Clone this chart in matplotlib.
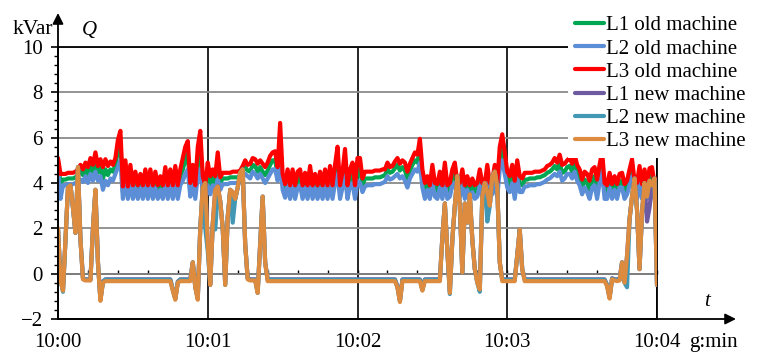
import matplotlib
matplotlib.use('Agg')
import matplotlib.pyplot as plt
from matplotlib.ticker import MultipleLocator

plt.rcParams['font.family'] = ['Liberation Serif', 'DejaVu Serif']

# time in seconds from 10:00, one sample per second
seconds = list(range(0, 241))
tick_pos = [0, 60, 120, 180, 240]
tick_labels = ['10:00', '10:01', '10:02', '10:03', '10:04']

names = ['L1 old machine', 'L2 old machine', 'L3 old machine',
         'L1 new machine', 'L2 new machine', 'L3 new machine']
colors = ['#00A651', '#5B8ED6', '#FF0000', '#6E5AA0', '#4197B4', '#DC8B3F']

# reactive power Q, kVar
l1_old = [
    4.9, 4.0, 4.15, 4.15, 4.2, 4.2, 4.2, 4.25, 4.35, 4.5, 4.35, 4.6, 4.4, 4.8, 4.5, 5.0, 4.45, 4.7, 4.2, 4.6,
    4.35, 4.6, 4.5, 4.8, 5.4, 5.8, 3.6, 4.6, 3.6, 4.4, 3.6, 4.2, 3.6, 4.1, 3.6, 4.3, 3.6, 4.3, 3.6, 4.2,
    3.6, 4.0, 3.6, 4.4, 3.6, 4.3, 3.6, 4.4, 3.6, 4.3, 4.6, 5.0, 5.3, 3.7, 4.4, 3.6, 5.0, 5.5, 4.0, 3.6,
    4.4, 3.9, 4.3, 4.0, 4.8, 4.0, 4.2, 4.2, 4.2, 4.25, 4.25, 4.25, 4.25, 4.3, 4.5, 4.7, 4.55, 4.5, 4.8, 4.75,
    4.5, 4.7, 4.5, 4.35, 4.55, 4.8, 5.0, 5.0, 4.4, 5.8, 4.0, 3.65, 4.25, 3.6, 4.25, 3.6, 4.15, 4.25, 3.6, 4.1,
    3.6, 4.4, 3.6, 4.1, 3.6, 4.15, 3.6, 4.25, 3.6, 4.4, 3.6, 4.4, 5.0, 3.6, 4.15, 4.9, 3.6, 4.25, 4.5, 3.6,
    4.6, 4.6, 3.9, 4.2, 4.2, 4.2, 4.2, 4.25, 4.25, 4.25, 4.3, 4.35, 4.6, 4.45, 4.5, 4.65, 4.8, 4.55, 4.7, 4.55,
    4.2, 4.55, 4.8, 5.0, 4.9, 5.5, 4.2, 3.65, 4.0, 3.6, 4.4, 3.7, 3.65, 4.15, 3.6, 4.5, 3.6, 3.7, 4.25, 4.5,
    3.7, 3.7, 4.25, 3.6, 4.0, 3.6, 3.9, 3.6, 3.7, 4.25, 3.7, 3.65, 4.4, 3.7, 3.8, 4.4, 3.7, 5.1, 5.6, 4.9,
    4.15, 3.95, 4.4, 3.7, 4.6, 3.95, 3.9, 4.15, 4.15, 4.2, 4.2, 4.2, 4.25, 4.25, 4.3, 4.35, 4.45, 4.5, 4.6, 4.75,
    4.6, 4.9, 4.45, 4.5, 4.7, 4.75, 4.5, 4.9, 4.45, 4.25, 3.8, 4.15, 4.0, 3.7, 4.2, 4.3, 3.7, 4.4, 4.95, 3.65,
    3.6, 4.1, 3.6, 4.0, 3.6, 4.1, 4.1, 3.6, 3.8, 4.25, 4.7, 3.75, 3.65, 4.4, 3.6, 4.25, 3.6, 4.3, 4.35, 3.6,
    3.9]

l2_old = [
    4.6, 3.3, 3.9, 3.9, 3.95, 3.95, 3.95, 4.0, 4.1, 4.15, 4.05, 4.3, 4.0, 4.4, 4.1, 4.5, 4.1, 4.3, 3.7, 4.1,
    3.9, 4.2, 4.1, 4.4, 4.7, 5.0, 3.3, 4.2, 3.3, 4.0, 3.3, 3.8, 3.3, 3.8, 3.3, 3.9, 3.3, 3.9, 3.3, 3.8,
    3.3, 3.7, 3.3, 4.0, 3.3, 3.9, 3.3, 4.0, 3.3, 3.9, 4.1, 4.4, 4.6, 3.4, 4.0, 3.3, 4.3, 4.6, 3.6, 3.3,
    3.9, 3.5, 3.9, 3.6, 4.2, 3.7, 3.95, 3.95, 3.95, 4.0, 4.0, 4.0, 4.0, 4.05, 4.25, 4.4, 4.3, 4.2, 4.5, 4.4,
    4.2, 4.4, 4.2, 4.0, 4.2, 4.4, 4.6, 4.6, 4.1, 5.0, 3.7, 3.35, 3.9, 3.3, 3.9, 3.3, 3.8, 3.9, 3.3, 3.8,
    3.3, 4.0, 3.3, 3.8, 3.3, 3.8, 3.3, 3.9, 3.3, 4.0, 3.3, 4.0, 4.4, 3.3, 3.8, 4.3, 3.3, 3.9, 4.0, 3.3,
    4.1, 4.0, 3.6, 3.85, 3.9, 3.9, 3.9, 3.95, 3.95, 3.95, 4.0, 4.05, 4.3, 4.15, 4.2, 4.3, 4.4, 4.2, 4.3, 4.1,
    3.8, 4.2, 4.4, 4.6, 4.5, 4.9, 3.8, 3.3, 3.7, 3.3, 4.0, 3.4, 3.3, 3.8, 3.3, 4.0, 3.3, 3.4, 3.9, 4.0,
    3.4, 3.4, 3.9, 3.3, 3.7, 3.3, 3.6, 3.3, 3.4, 3.9, 3.4, 3.35, 4.0, 3.4, 3.5, 4.0, 3.4, 4.6, 5.0, 4.4,
    3.8, 3.6, 4.0, 3.3, 4.2, 3.6, 3.6, 3.85, 3.85, 3.9, 3.9, 3.9, 3.95, 3.95, 4.0, 4.05, 4.15, 4.2, 4.3, 4.4,
    4.3, 4.5, 4.1, 4.2, 4.4, 4.4, 4.2, 4.5, 4.1, 3.9, 3.5, 3.8, 3.6, 3.3, 3.8, 3.9, 3.3, 4.0, 4.5, 3.3,
    3.3, 3.8, 3.3, 3.7, 3.3, 3.8, 3.8, 3.3, 3.5, 3.9, 4.3, 3.4, 3.3, 4.0, 3.3, 3.9, 3.3, 3.9, 4.0, 3.3,
    3.6]

l3_old = [
    5.1, 4.4, 4.4, 4.4, 4.45, 4.45, 4.45, 4.5, 4.6, 4.8, 4.6, 4.9, 4.7, 5.1, 4.8, 5.35, 4.75, 5.05, 4.7, 5.05,
    4.75, 4.95, 4.8, 5.1, 5.9, 6.3, 3.85, 5.0, 3.85, 4.8, 3.9, 4.5, 3.9, 4.4, 3.9, 4.6, 3.9, 4.6, 3.9, 4.5,
    3.9, 4.3, 3.9, 4.7, 3.9, 4.6, 3.9, 4.75, 3.9, 4.6, 5.1, 5.6, 5.85, 4.0, 4.8, 3.9, 5.6, 6.3, 4.3, 3.9,
    4.9, 4.3, 4.6, 4.3, 5.35, 4.25, 4.45, 4.45, 4.45, 4.45, 4.5, 4.5, 4.5, 4.55, 4.75, 5.0, 4.8, 4.85, 5.1, 5.05,
    4.85, 5.0, 4.85, 4.7, 4.9, 5.2, 5.35, 5.4, 4.7, 6.65, 4.4, 3.95, 4.6, 3.9, 4.6, 3.9, 4.5, 4.6, 3.9, 4.45,
    3.9, 4.75, 3.9, 4.4, 3.9, 4.5, 3.9, 4.6, 3.9, 4.75, 3.9, 4.8, 5.6, 3.9, 4.5, 5.5, 3.9, 4.6, 4.9, 3.9,
    5.1, 5.1, 4.2, 4.5, 4.5, 4.5, 4.5, 4.55, 4.55, 4.55, 4.6, 4.6, 4.9, 4.7, 4.75, 4.95, 5.1, 4.85, 5.0, 4.9,
    4.5, 4.85, 5.1, 5.35, 5.25, 5.95, 4.6, 4.0, 4.3, 3.9, 4.8, 4.0, 3.95, 4.5, 3.9, 4.9, 3.9, 4.0, 4.6, 4.9,
    4.0, 4.0, 4.6, 3.9, 4.3, 3.9, 4.2, 3.9, 4.0, 4.6, 4.0, 3.95, 4.8, 4.0, 4.1, 4.8, 4.0, 5.6, 6.15, 5.35,
    4.5, 4.3, 4.8, 4.1, 5.0, 4.3, 4.2, 4.45, 4.45, 4.45, 4.45, 4.5, 4.5, 4.5, 4.55, 4.6, 4.75, 4.8, 4.9, 5.1,
    4.9, 5.25, 4.8, 4.85, 5.0, 5.1, 4.85, 5.25, 4.8, 4.6, 4.15, 4.5, 4.4, 4.1, 4.6, 4.7, 4.15, 4.8, 5.4, 4.0,
    3.9, 4.45, 3.95, 4.3, 3.95, 4.4, 4.45, 3.95, 4.1, 4.6, 5.05, 4.1, 4.0, 4.75, 3.95, 4.6, 3.9, 4.65, 4.7, 3.95,
    4.2]

l1_new = [
    2.0, -0.25, -0.7, 1.5, 3.8, 3.9, 2.9, 1.8, 4.7, 1.5, -0.2, -0.25, -0.25, -0.25, 2.0, 3.7, 0.5, -1.15, -0.35, -0.25,
    -0.25, -0.25, -0.25, -0.25, -0.25, -0.25, -0.25, -0.25, -0.25, -0.25, -0.25, -0.25, -0.25, -0.25, -0.25, -0.25, -0.25, -0.25, -0.25, -0.25,
    -0.25, -0.25, -0.25, -0.25, -0.25, -0.25, -0.7, -1.1, -0.35, -0.25, -0.25, -0.25, -0.25, -0.25, 0.5, -0.55, -1.1, 2.0, 3.8, 4.0,
    1.3, -0.45, 2.2, 3.7, 3.85, 3.2, 2.0, -0.45, 2.5, 3.7, 3.6, 3.3, 3.8, 4.45, 4.6, 1.3, -0.2, -0.25, -0.25, -0.25,
    -0.8, 1.3, 3.4, 0.5, -0.25, -0.25, -0.25, -0.25, -0.25, -0.25, -0.25, -0.25, -0.25, -0.25, -0.25, -0.25, -0.25, -0.25, -0.25, -0.25,
    -0.25, -0.25, -0.25, -0.25, -0.25, -0.25, -0.25, -0.25, -0.25, -0.25, -0.25, -0.25, -0.25, -0.25, -0.25, -0.25, -0.25, -0.25, -0.25, -0.25,
    -0.25, -0.25, -0.25, -0.25, -0.25, -0.25, -0.25, -0.25, -0.25, -0.25, -0.25, -0.25, -0.25, -0.25, -0.25, -0.25, -0.55, -1.2, -0.25, -0.25,
    -0.25, -0.25, -0.25, -0.25, -0.25, -0.25, -0.7, -0.25, -0.25, -0.25, -0.25, -0.25, -0.25, -0.25, 1.6, 3.1, 1.0, -0.8, 1.5, 3.0,
    4.3, 3.0, 0.05, 3.1, 2.25, 3.5, 1.5, 0.2, -0.35, -0.65, 3.4, 4.0, 3.6, 3.0, 4.3, 4.5, 3.8, 0.5, -0.25, -0.25,
    -0.25, -0.25, -0.25, -0.25, 0.8, 1.95, 0.2, -0.25, -0.25, -0.25, -0.25, -0.25, -0.25, -0.25, -0.25, -0.25, -0.25, -0.25, -0.25, -0.25,
    -0.25, -0.25, -0.25, -0.25, -0.25, -0.25, -0.25, -0.25, -0.25, -0.25, -0.25, -0.25, -0.25, -0.25, -0.25, -0.25, -0.25, -0.25, -0.25, -0.25,
    -0.5, -1.05, -0.2, -0.25, -0.25, -0.25, 0.5, -0.35, 0.8, 2.4, 3.4, 4.2, 2.8, 0.2, 2.7, 4.0, 2.3, 2.9, 3.9, 4.2,
    -0.5]

l2_new = [
    2.0, -0.27, -0.8, 1.5, 3.8, 3.9, 2.9, 1.8, 4.7, 1.5, -0.22, -0.27, -0.27, -0.27, 2.0, 3.7, 0.5, -1.15, -0.37, -0.27,
    -0.27, -0.27, -0.27, -0.27, -0.27, -0.27, -0.27, -0.27, -0.27, -0.27, -0.27, -0.27, -0.27, -0.27, -0.27, -0.27, -0.27, -0.27, -0.27, -0.27,
    -0.27, -0.27, -0.27, -0.27, -0.27, -0.27, -0.7, -1.1, -0.37, -0.27, -0.27, -0.27, -0.27, -0.27, 0.5, -0.6, -1.1, 2.0, 3.8, 2.0,
    1.0, -0.5, 2.2, 1.95, 3.6, 3.2, 2.0, -0.5, 2.5, 3.7, 2.25, 3.3, 3.8, 4.45, 4.6, 1.3, -0.22, -0.27, -0.27, -0.27,
    -0.85, 1.3, 3.4, 0.5, -0.27, -0.27, -0.27, -0.27, -0.27, -0.27, -0.27, -0.27, -0.27, -0.27, -0.27, -0.27, -0.27, -0.27, -0.27, -0.27,
    -0.27, -0.27, -0.27, -0.27, -0.27, -0.27, -0.27, -0.27, -0.27, -0.27, -0.27, -0.27, -0.27, -0.27, -0.27, -0.27, -0.27, -0.27, -0.27, -0.27,
    -0.27, -0.27, -0.27, -0.27, -0.27, -0.27, -0.27, -0.27, -0.27, -0.27, -0.27, -0.27, -0.27, -0.27, -0.27, -0.27, -0.6, -1.2, -0.27, -0.27,
    -0.27, -0.27, -0.27, -0.27, -0.27, -0.27, -0.7, -0.27, -0.27, -0.27, -0.27, -0.27, -0.27, -0.27, 1.6, 3.1, 1.0, -0.9, 1.5, 3.0,
    4.3, 3.0, 0.05, 3.1, 2.25, 3.5, 1.5, 0.2, -0.4, -0.8, 3.4, 4.0, 2.3, 3.0, 4.3, 4.5, 3.8, 0.5, -0.27, -0.27,
    -0.27, -0.27, -0.27, -0.27, 0.8, 1.95, 0.2, -0.27, -0.27, -0.27, -0.27, -0.27, -0.27, -0.27, -0.27, -0.27, -0.27, -0.27, -0.27, -0.27,
    -0.27, -0.27, -0.27, -0.27, -0.27, -0.27, -0.27, -0.27, -0.27, -0.27, -0.27, -0.27, -0.27, -0.27, -0.27, -0.27, -0.27, -0.27, -0.27, -0.27,
    -0.5, -1.05, -0.22, -0.27, -0.27, -0.27, 0.5, -0.4, -0.6, 2.4, 3.4, 4.2, 2.8, 0.2, 2.7, 4.0, 3.4, 4.1, 3.9, 4.2,
    -0.5]

l3_new = [
    2.0, -0.3, -0.75, 1.5, 3.8, 3.9, 2.9, 1.8, 4.7, 1.5, -0.25, -0.3, -0.3, -0.3, 2.0, 3.7, 0.5, -1.2, -0.4, -0.33,
    -0.33, -0.33, -0.33, -0.33, -0.33, -0.33, -0.33, -0.33, -0.33, -0.33, -0.33, -0.33, -0.33, -0.33, -0.33, -0.33, -0.33, -0.33, -0.33, -0.33,
    -0.33, -0.33, -0.33, -0.33, -0.33, -0.33, -0.75, -1.15, -0.4, -0.33, -0.33, -0.33, -0.33, -0.33, 0.5, -0.6, -1.15, 2.0, 3.8, 4.0,
    1.3, -0.5, 2.2, 3.7, 3.85, 3.2, 2.0, -0.5, 2.5, 3.7, 3.6, 3.3, 3.8, 4.45, 4.6, 1.3, -0.25, -0.3, -0.3, -0.3,
    -0.85, 1.3, 3.4, 0.5, -0.33, -0.33, -0.33, -0.33, -0.33, -0.33, -0.33, -0.33, -0.33, -0.33, -0.33, -0.33, -0.33, -0.33, -0.33, -0.33,
    -0.33, -0.33, -0.33, -0.33, -0.33, -0.33, -0.33, -0.33, -0.33, -0.33, -0.33, -0.33, -0.33, -0.33, -0.33, -0.33, -0.33, -0.33, -0.33, -0.33,
    -0.33, -0.33, -0.33, -0.33, -0.33, -0.33, -0.33, -0.33, -0.33, -0.33, -0.33, -0.33, -0.33, -0.33, -0.33, -0.33, -0.6, -1.25, -0.33, -0.33,
    -0.33, -0.33, -0.33, -0.33, -0.33, -0.33, -0.75, -0.33, -0.33, -0.33, -0.33, -0.33, -0.33, -0.33, 1.6, 3.1, 1.0, -0.85, 1.5, 3.0,
    4.3, 3.0, 0.05, 3.1, 2.25, 3.5, 1.5, 0.2, -0.4, -0.7, 3.4, 4.0, 3.6, 3.0, 4.3, 4.5, 3.8, 0.5, -0.33, -0.33,
    -0.33, -0.33, -0.33, -0.33, 0.8, 1.95, 0.2, -0.33, -0.33, -0.33, -0.33, -0.33, -0.33, -0.33, -0.33, -0.33, -0.33, -0.33, -0.33, -0.33,
    -0.33, -0.33, -0.33, -0.33, -0.33, -0.33, -0.33, -0.33, -0.33, -0.33, -0.33, -0.33, -0.33, -0.33, -0.33, -0.33, -0.33, -0.33, -0.33, -0.33,
    -0.55, -1.1, -0.25, -0.3, -0.33, -0.3, 0.5, -0.4, 0.8, 2.4, 3.4, 4.2, 2.8, 0.2, 2.7, 4.0, 3.4, 4.1, 3.9, 4.2,
    -0.5]

series = [l1_old, l2_old, l3_old, l1_new, l2_new, l3_new]

W, H = 766, 360
fs = 15
fig = plt.figure(figsize=(W / 100, H / 100), dpi=100)
ax = fig.add_axes([58 / W, 1 - 319 / H, (657 - 58) / W, (319 - 47) / H])

for vals, name, c in zip(series, names, colors):
    ax.plot(seconds, vals, color=c, lw=3, label=name,
            solid_joinstyle='round', solid_capstyle='round', zorder=3)

ax.set_xlim(0, 240)
ax.set_ylim(-2, 10)
ax.set_xticks(tick_pos)
ax.set_xticklabels(tick_labels)
ax.set_yticks(range(-2, 11, 2))
ax.yaxis.set_minor_locator(MultipleLocator(0.4))

ax.tick_params(axis='x', length=0, pad=10, labelsize=fs)
ax.tick_params(axis='y', which='major', direction='out', length=5, width=1.2, pad=6, labelsize=fs)
ax.tick_params(axis='y', which='minor', direction='out', length=3, width=1.0)

ax.grid(axis='y', color='#8a8a8a', lw=1.3, zorder=1)
ax.grid(axis='x', color='black', lw=1.2, zorder=1)
ax.set_axisbelow(True)
for s in ax.spines.values():
    s.set_linewidth(1.3)
    s.set_color('black')

# zero line with small ticks every 12 s
zero = ax.secondary_xaxis(1 / 6)
zero.set_xticks(range(0, 241, 12))
zero.tick_params(direction='in', length=3, width=1.0, labelbottom=False)
zero.spines['bottom'].set_linewidth(1.3)

# axis arrows
arrow = dict(arrowstyle='-|>', color='black', lw=1.3, mutation_scale=16, shrinkA=0, shrinkB=0)
ax.annotate('', xy=(58 / W, 1 - 13 / H), xytext=(58 / W, 1 - 319 / H),
            xycoords='figure fraction', arrowprops=arrow)
ax.annotate('', xy=(736 / W, 1 - 319 / H), xytext=(58 / W, 1 - 319 / H),
            xycoords='figure fraction', arrowprops=arrow)

fig.text(33 / W, 1 - 29 / H, 'kVar', ha='center', va='center', fontsize=fs + 0.5)
fig.text(89 / W, 1 - 31 / H, 'Q', ha='center', va='center', fontsize=fs, style='italic')
fig.text(707 / W, 1 - 302 / H, 't', ha='center', va='center', fontsize=fs, style='italic')
fig.text(713 / W, 1 - 343 / H, 'g:min', ha='center', va='center', fontsize=fs)

leg = ax.legend(loc='upper left', bbox_to_anchor=(568 / W, 1 - 9 / H), bbox_transform=fig.transFigure,
                frameon=True, facecolor='white', edgecolor='none', framealpha=1, fancybox=False,
                fontsize=fs, handlelength=1.4, handletextpad=0.08, labelspacing=0.17,
                borderpad=0.33, borderaxespad=0)
leg.set_zorder(10)

fig.savefig('out.png', dpi=100)
